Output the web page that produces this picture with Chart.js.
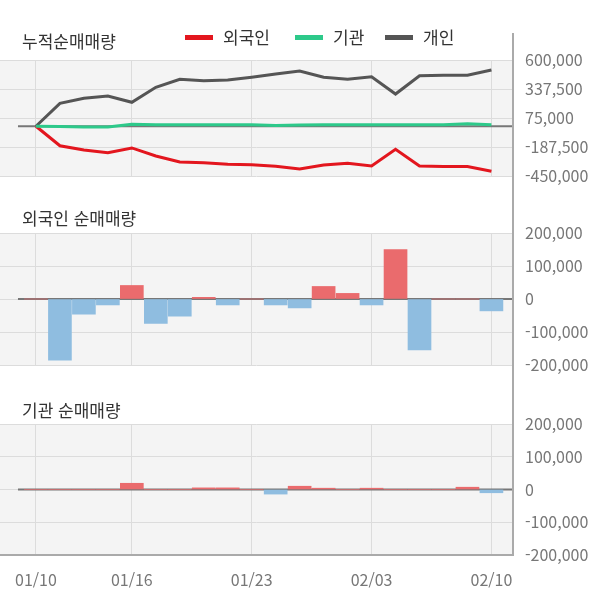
<!DOCTYPE html>
<html lang="ko">
<head>
  <meta charset="UTF-8" />
  <title>순매매량</title>
  <script src="https://cdn.jsdelivr.net/npm/chart.js"></script>
  <style>
    * { margin: 0; padding: 0; box-sizing: border-box; }
    body {
      width: 600px; height: 604px; background: #fff; position: relative; overflow: hidden;
      font-family: 'Noto Sans CJK KR', 'Noto Sans', sans-serif;
    }
    canvas { position: absolute; left: 0; }
    .title {
      position: absolute; left: 22px; font-size: 17px; line-height: 20px; color: #333; z-index: 2;
    }
    .legend { position: absolute; top: 27px; left: 185px; font-size: 17px; line-height: 20px; color: #333; z-index: 2; }
    .legend span { position: absolute; white-space: nowrap; }
    .legend i { position: absolute; top: 8px; width: 28px; height: 5px; }
    .frame-v { position: absolute; left: 512px; top: 33px; width: 2px; height: 523px; background: #aaa; z-index: 3; }
    .frame-h { position: absolute; left: 0; top: 554px; width: 514px; height: 2px; background: #aaa; z-index: 3; }
  </style>
</head>
<body>
  <div class="title" style="top:31px">누적순매매량</div>
  <div class="legend">
    <i style="left:0; background:#e3161e"></i><span style="left:38px">외국인</span>
    <i style="left:110px; background:#2dc98a"></i><span style="left:148px">기관</span>
    <i style="left:200px; background:#555"></i><span style="left:238px">개인</span>
  </div>
  <div class="title" style="top:208px">외국인 순매매량</div>
  <div class="title" style="top:400px">기관 순매매량</div>

  <canvas id="cumChart" width="600" height="150" style="top:44px"></canvas>
  <canvas id="foreignChart" width="600" height="164" style="top:217px"></canvas>
  <canvas id="instChart" width="600" height="196" style="top:408px"></canvas>

  <div class="frame-v"></div>
  <div class="frame-h"></div>

  <script>
    const dates = ['01/10', '01/13', '01/14', '01/15', '01/16', '01/17', '01/20', '01/21', '01/22', '01/23',
                   '01/28', '01/29', '01/30', '01/31', '02/03', '02/04', '02/05', '02/06', '02/07', '02/10'];
    const shownTicks = [0, 4, 9, 14, 19];

    // cumulative net buying
    const cumForeign = [0, -176000, -215000, -239000, -196000, -269000, -323000, -329000, -344000, -348000,
                        -362000, -387000, -350000, -335000, -359000, -208000, -359000, -365000, -365000, -407000];
    const cumInst = [0, -2000, -6000, -6000, 18000, 14000, 14000, 14000, 14000, 14000,
                     6000, 12000, 14000, 14000, 14000, 14000, 14000, 14000, 22000, 14000];
    const cumPersonal = [0, 208000, 253000, 274000, 217000, 353000, 425000, 413000, 419000, 444000,
                         473000, 500000, 444000, 425000, 449000, 292000, 458000, 462000, 462000, 510000];

    // daily net buying
    const foreignDaily = [0, -185000, -46000, -18000, 41000, -74000, -52000, 5000, -18000, 0,
                          -18000, -27000, 38000, 17000, -18000, 150000, -154000, 0, 0, -36000];
    const instDaily = [0, 0, 0, 0, 19000, 0, 0, 5000, 5000, 0,
                       -14000, 10000, 4000, 0, 4000, 0, 0, 0, 7000, -10000];

    const cumTicks = [-450000, -187500, 75000, 337500, 600000];
    const dailyTicks = [-200000, -100000, 0, 100000, 200000];

    const FONT = "'Noto Sans CJK KR', 'Noto Sans', sans-serif";
    const toPoints = arr => arr.map((v, i) => ({ x: i, y: v }));

    // grey plot background + zero line
    const panelPlugin = {
      id: 'panel',
      beforeDraw(chart) {
        const { ctx, chartArea: a } = chart;
        ctx.save();
        ctx.fillStyle = '#f4f4f4';
        ctx.fillRect(a.left, a.top, a.right - a.left, a.bottom - a.top);
        ctx.restore();
      },
      beforeDatasetsDraw(chart) {
        const { ctx, chartArea: a, scales } = chart;
        const y0 = scales.y.getPixelForValue(0);
        ctx.save();
        ctx.strokeStyle = '#777';
        ctx.lineWidth = 2;
        ctx.beginPath();
        ctx.moveTo(scales.x.getPixelForValue(-0.75), y0);
        ctx.lineTo(a.right, y0);
        ctx.stroke();
        ctx.restore();
      }
    };

    function xScale(showLabels) {
      return {
        type: 'linear',
        min: -1.5,
        max: 19.9,
        offset: false,
        afterBuildTicks: s => { s.ticks = shownTicks.map(v => ({ value: v })); },
        afterFit: s => { s.height = showLabels ? 49 : 0; },
        grid: { color: '#dcdcdc', lineWidth: 1, drawTicks: false, offset: false },
        border: { display: false },
        ticks: {
          display: showLabels,
          padding: 15,
          color: '#777',
          font: { family: FONT, size: 16 },
          maxRotation: 0,
          callback: v => dates[v]
        }
      };
    }

    function yScale(tickValues) {
      return {
        position: 'right',
        min: tickValues[0],
        max: tickValues[tickValues.length - 1],
        afterBuildTicks: s => { s.ticks = tickValues.map(v => ({ value: v })); },
        // fixed axis width; label overhang is handled by layout padding
        afterFit: s => { s.width = 87; s.paddingTop = 0; s.paddingBottom = 0; },
        grid: { color: '#dcdcdc', lineWidth: 1, drawTicks: false },
        border: { display: false },
        ticks: {
          padding: 12,
          color: '#777',
          font: { family: FONT, size: 16 },
          callback: v => v.toLocaleString('en-US')
        }
      };
    }

    const baseOptions = (showLabels, tickValues, pad) => ({
      responsive: false,
      animation: false,
      layout: { padding: { top: pad[0], bottom: pad[1], left: 0, right: 0 } },
      plugins: { legend: { display: false }, tooltip: { enabled: false } },
      scales: { x: xScale(showLabels), y: yScale(tickValues) }
    });

    new Chart(document.getElementById('cumChart'), {
      type: 'line',
      data: {
        datasets: [
          { label: '기관', data: toPoints(cumInst), borderColor: '#2dc98a', borderWidth: 3, pointRadius: 0, tension: 0 },
          { label: '외국인', data: toPoints(cumForeign), borderColor: '#e3161e', borderWidth: 3, pointRadius: 0, tension: 0 },
          { label: '개인', data: toPoints(cumPersonal), borderColor: '#555', borderWidth: 3, pointRadius: 0, tension: 0 }
        ]
      },
      options: baseOptions(false, cumTicks, [16, 18]),
      plugins: [panelPlugin]
    });

    const barColor = ctx => (ctx.raw && ctx.raw.y < 0) ? '#8fbde0' : '#ea6b6d';

    new Chart(document.getElementById('foreignChart'), {
      type: 'bar',
      data: {
        datasets: [{ label: '외국인', data: toPoints(foreignDaily), backgroundColor: barColor, barThickness: 23 }]
      },
      options: baseOptions(false, dailyTicks, [16, 16]),
      plugins: [panelPlugin]
    });

    new Chart(document.getElementById('instChart'), {
      type: 'bar',
      data: {
        datasets: [{ label: '기관', data: toPoints(instDaily), backgroundColor: barColor, barThickness: 23 }]
      },
      options: baseOptions(true, dailyTicks, [16, 0]),
      plugins: [panelPlugin]
    });
  </script>
</body>
</html>
